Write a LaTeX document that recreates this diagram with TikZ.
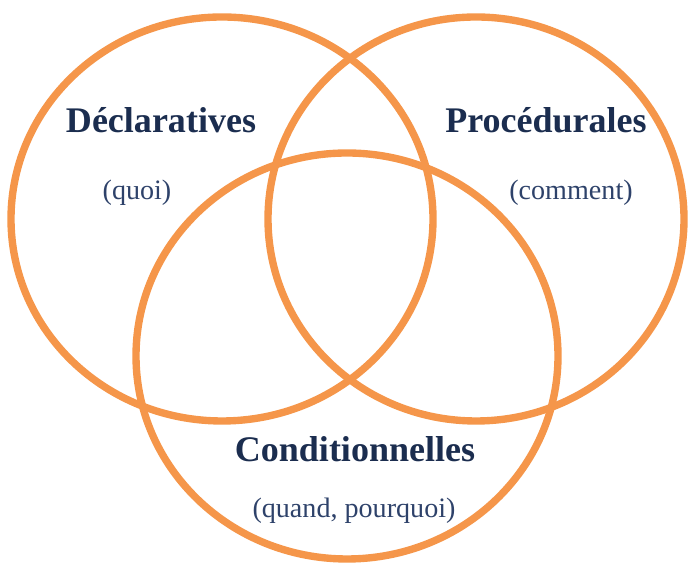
\documentclass[tikz,border=0pt]{standalone}
\usepackage{fontspec}
\setmainfont{Liberation Serif}
\usepackage{tikz}

\definecolor{vennorange}{RGB}{245,150,74}
\definecolor{titlenavy}{RGB}{27,45,79}
\definecolor{subnavy}{RGB}{46,66,106}

\begin{document}
\begin{tikzpicture}[x=0.02cm, y=0.02cm,
    venn/.style={draw=vennorange, line width=4.2pt},
    titre/.style={anchor=base, text=titlenavy, font=\fontsize{20.5}{24}\selectfont\bfseries},
    sous/.style={anchor=base, text=subnavy, font=\fontsize{16}{19}\selectfont}]
    % cadre (taille de l'image)
    \useasboundingbox (0,0) rectangle (689,563);

    % centres des trois cercles
    \coordinate (cDecl) at (222,344);
    \coordinate (cProc) at (476,344);
    \coordinate (cCond) at (347,207);

    % les cercles
    \draw[venn] (cDecl) ellipse [x radius=211, y radius=202];
    \draw[venn] (cProc) ellipse [x radius=208, y radius=202];
    \draw[venn] (cCond) ellipse [x radius=211, y radius=203];

    % titres
    \node[titre] (decl) at (161,430) {Déclaratives};
    \node[titre] (proc) at (546,430) {Procédurales};
    \node[titre] (cond) at (355,101) {Conditionnelles};

    % sous-titres
    \node[sous] (quoi) at (137,363) {(quoi)};
    \node[sous] (comment) at (571,363) {(comment)};
    \node[sous] (quand) at (354,45) {(quand, pourquoi)};
\end{tikzpicture}
\end{document}
